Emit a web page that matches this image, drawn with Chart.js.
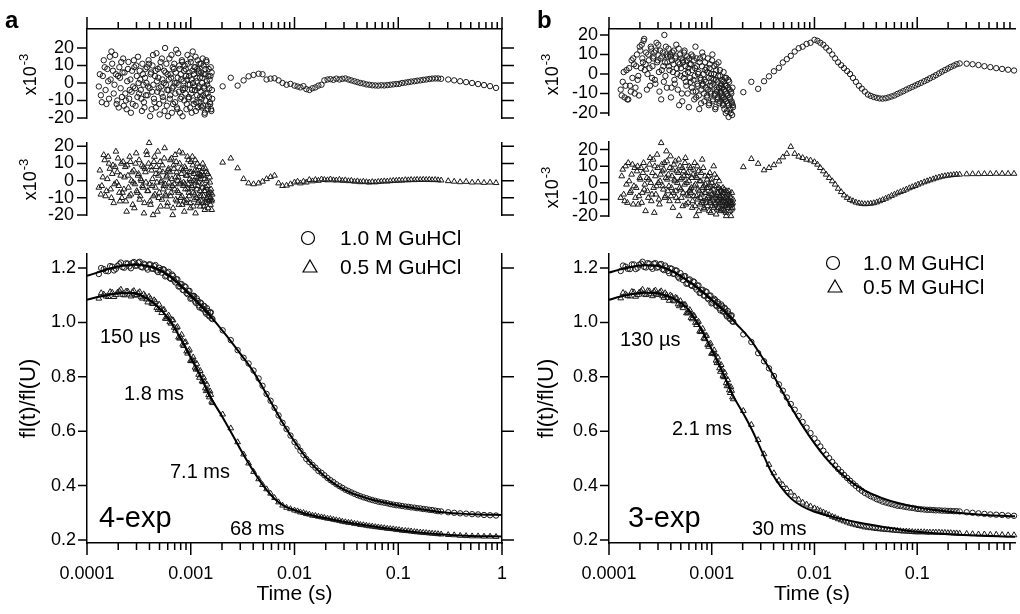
<!DOCTYPE html>
<html>
<head>
<meta charset="utf-8">
<title>Fluorescence decay fits</title>
<script src="https://cdn.jsdelivr.net/npm/chart.js@4.4.1/dist/chart.umd.min.js"></script>
<style>
html, body { margin: 0; padding: 0; background: #fff; }
#wrap { position: relative; width: 1020px; height: 614px; overflow: hidden; }
#wrap canvas { position: absolute; left: 0; top: 0; }
</style>
</head>
<body>
<div id="wrap"></div>
<script>
const FAM = '"Liberation Sans", Arial, Helvetica, sans-serif';
const W = 1020, H = 614;

// tick labels
const decadeLabels = ['0.0001', '0.001', '0.01', '0.1', '1'];
const fracTicks = [0.2, 0.4, 0.6, 0.8, 1.0, 1.2];
const resTicks = [-20, -10, 0, 10, 20];

// sampling times of the early, dense part (microseconds), two interleaved sets
const denseUs = [130,136,142,148,154,160,166,172,178,184,190,196,202,208,214,220,
  227,234,241,248,255,262,269,276,283,290,298,306,314,322,330,338,346,354,362,370,
  379,388,397,406,415,424,433,442,452,462,472,482,492,502,512,522,533,544,555,566,577,588,599,610,
  622,634,646,658,670,682,694,706,718,730,743,756,769,782,795,808,821,834,847,860,
  874,888,902,916,930,944,958,972,986,1000,1015,1030,1045,1060,1075,1090,1105,1120,1135,1150,1165,1180,1195,1210,1225,1240,
  1256,1272,1288,1304,1320,1336,1352,1368,1384,1400,1420,1440,1460,1480,1500,1520,1540,1560,1580,1600];
const denseUs2 = [133,139,145,151,157,163,169,175,181,187,193,199,205,211,217,223,
  230,237,244,251,258,265,272,279,286,294,302,310,318,326,334,342,350,358,366,374,
  383,392,401,410,419,428,437,447,457,467,477,487,497,507,517,527,538,549,560,571,582,593,604,616,
  628,640,652,664,676,688,700,712,724,736,749,762,775,788,801,814,827,840,853,867,
  881,895,909,923,937,951,965,979,993,1007,1022,1037,1052,1067,1082,1097,1112,1127,1142,1157,1172,1187,1202,1217,1232,1248,
  1264,1280,1296,1312,1328,1344,1360,1376,1392,1410,1430,1450,1470,1490,1510,1530,1550,1570,1590,1610];
// decay curve points in the early part (microseconds), two interleaved sets
const mainUs = [130,145,160,175,190,205,220,238,256,274,292,312,332,352,374,396,420,444,470,496,
  524,552,582,612,644,676,710,744,780,816,854,892,932,972,1014,1056,1100,1144,1190,1236,
  1284,1332,1382,1432,1484,1536,1590];
const mainUs2 = [137,152,167,182,197,212,229,247,265,283,302,322,342,363,385,408,432,457,483,510,
  538,567,597,628,660,693,727,762,798,835,873,912,952,993,1035,1078,1122,1167,1213,1260,
  1308,1357,1407,1458,1510,1563,1620];
// later points (seconds)
const trailT = [0.00203,0.00243,0.00283,0.00323,0.00361,0.00403,0.00451,0.00492,0.00538,0.00588,0.00642,0.00702,0.00767,0.00838,0.00915,0.0100,
  0.0107,0.0114,0.0122,0.0130,0.0139,0.0149,0.0159,0.0170,0.0182,0.0194,
  0.0208,0.0222,0.0237,0.0253,0.0271,0.0289,0.0309,0.0331,0.0353,0.0378,
  0.0404,0.0431,0.0461,0.0493,0.0526,0.0562,0.0601,0.0642,0.0686,0.0733,
  0.0784,0.0838,0.0895,0.0957,0.102,0.109,0.117,0.125,0.133,0.143,
  0.152,0.163,0.174,0.186,0.199,0.212,0.227,0.242,0.259,
  0.303,0.346,0.395,0.451,0.515,0.588,0.671,0.767,0.876];

// residuals (x10^-3), panel a
const resA1Dense = [-2,-7,4,9,-12,1,15,18,7,-1,5,-10,-14,3,12,6,
  -13,-6,-15,8,-9,2,-5,-12,13,-3,10,-8,0,7,-4,-16,5,-11,3,-7,
  9,-2,11,-19,6,-5,16,-9,4,-14,1,8,-3,-18,12,-6,2,-10,7,20,-1,-13,5,-4,
  14,-7,3,-17,9,-2,11,-11,6,0,-15,17,-5,8,-9,2,13,-19,-3,7,
  10,-6,4,-12,16,-1,-8,6,-14,12,2,-4,18,-10,5,-2,9,-16,1,-7,13,-3,7,-11,3,-5,
  11,-9,0,14,-13,5,-3,-17,8,-6,12,-1,-15,4,-8,2,-12,9,-16,-4];
const resA1Dense2 = [5,-11,13,-4,8,-9,2,11,-6,16,-12,4,9,-3,-8,14,
  6,-10,1,12,-4,-17,7,-2,9,-13,4,15,-6,2,-9,11,-1,-14,8,0,
  -7,13,-3,5,-15,10,-1,-11,7,17,-5,3,-12,9,-2,14,-8,0,-16,6,11,-4,-19,2,
  -9,5,16,-3,-12,8,0,-6,19,-14,3,-1,10,-17,5,-8,12,-4,1,-10,
  -3,8,-15,2,11,-9,4,-1,14,-6,-17,7,0,-12,9,-4,15,-11,3,8,-14,6,-2,11,-8,-13,
  6,-14,3,-7,10,-2,-18,5,-10,13,1,-6,-13,8,-3,-11,4,-15,6,-9];
const resA1Trail = [-1.9,3,-1.5,1.5,3.8,4.6,5.3,5,2,2.5,2.7,1.5,0,-1,-0.5,-1.5,
  -2,-2.5,-1.8,-3.5,-4,-3,-2.5,-1.5,-1,1.5,
  2,2.2,1.8,2.5,2,2.4,2.6,2,1.5,1,
  0.5,0,-0.3,-0.8,-1,-1.3,-1.4,-1.5,-1.3,-1.4,
  -1.2,-1,-0.8,-0.6,-0.5,0,0.2,0.5,0.8,1,
  1.3,1.5,1.8,2,2.3,2.5,2.6,2.6,2.4,
  2,1.5,1,0.5,0,-0.6,-1.2,-1.8,-2.8];
const resA2Dense = [-4,-8,2,12,-6,14,7,-10,9,-2,17,5,-3,-12,10,-7,
  -5,8,-18,3,-9,11,0,-14,6,-2,16,-7,4,-11,1,9,-4,-19,7,-1,
  15,-6,22,-12,8,-3,-20,11,-8,4,-1,17,-10,6,-15,0,9,-5,13,-2,-9,3,-13,7,
  -4,12,-7,1,-20,9,-2,15,-11,5,-6,2,-14,10,-1,7,-9,16,-3,-12,
  8,-5,3,-11,14,-2,-7,5,-13,11,0,-4,9,-15,4,-8,12,-1,-10,6,-3,2,-12,8,-6,1,
  -9,5,-2,10,-13,3,-6,-17,7,-4,0,-11,4,-8,-12,2,-10,-7,-12,-11];
const resA2Dense2 = [6,-3,15,-9,1,10,-5,4,-13,8,-1,13,-7,3,-10,11,
  2,-12,9,-4,14,-8,5,-1,-16,10,-6,3,12,-9,0,-3,8,-13,5,17,
  -6,10,-2,-14,6,1,-9,14,-4,8,-18,3,-7,11,-1,-11,5,-3,19,-8,2,-15,6,-1,
  5,-9,13,-3,-16,7,-5,2,11,-12,0,-7,17,-2,-10,4,-14,6,-1,-18,
  -2,7,-13,3,-5,12,-9,1,-16,5,-3,14,-7,0,-11,6,-19,2,-5,10,-13,-1,4,-9,-15,3,
  3,-12,-4,7,-9,-15,1,-6,-13,5,-10,-3,-16,-7,-11,-1,-14,-5,-17,-8];
const resA2Trail = [10.6,13,7.3,1,-1.5,-2,-1.5,-0.5,1,2.2,3,-1.5,-3,-2.8,-2,-1,
  -0.5,-1.5,-0.5,-1,0.5,-0.3,0.5,0,0.8,0.5,
  0.3,0.8,0.3,0.2,0.6,0,0.3,-0.2,0,-0.5,
  -0.3,-0.8,-0.5,-0.8,-1,-0.7,-0.9,-0.6,-0.5,-0.3,
  -0.4,-0.2,0,0,0.2,0.1,0.4,0.3,0.5,0.4,
  0.6,0.5,0.6,0.5,0.6,0.4,0.5,0.3,0.2,
  -0.2,-0.5,-0.8,-0.6,-1,-0.9,-1.2,-1,-1.3];

// residuals (x10^-3), panel b
const resB1Dense = [-8,-4,-12,2,-13,-6,7,8,-10,4,-3,-11,12,15,6,18,
  5,-8,10,3,14,-2,8,11,-5,16,7,1,12,-13,9,4,20,-1,10,6,
  13,2,9,-7,11,5,-3,8,15,0,6,-16,10,3,-10,7,-2,12,4,-6,9,1,-17,5,
  -4,10,2,-9,7,-1,14,-12,4,-6,1,-18,8,-3,-8,11,-5,0,-14,6,
  -7,3,-11,8,-2,-15,5,-9,0,-6,10,-13,-3,4,-10,-17,2,-8,-4,-12,6,-7,-14,-1,-9,-5,
  -11,-3,-16,1,-8,-13,-6,-20,-2,-10,-15,-7,-22,-4,-12,-18,-9,-14,-21,-16];
const resB1Dense2 = [-11,1,-6,-13,3,-9,-2,5,-7,10,-1,14,3,8,17,2,
  11,0,7,-6,13,4,9,-3,12,6,15,-9,8,2,11,-4,6,14,-7,9,
  4,10,-12,7,1,12,-5,9,3,-8,13,5,-1,8,-14,6,11,0,-4,7,-10,3,8,-2,
  5,-7,9,-3,-13,3,-9,8,-5,0,-11,6,-2,-15,4,-6,9,-10,-3,2,
  -4,-12,1,-8,-16,3,-6,-10,-2,7,-14,-5,0,-11,-18,-3,5,-9,-13,-1,-7,-15,2,-10,-6,-12,
  -7,-15,-4,-12,-18,-2,-9,-14,-6,-19,-11,-3,-16,-8,-13,-20,-10,-15,-7,-17];
const resB1Trail = [-9.3,-4,-7.6,-3.7,-1.2,1.4,3.2,5.9,7.6,9.3,11.5,13.2,14,15.4,16,17.5,
  17,16,15,13.5,12,10,8,6,4.5,3,
  1.5,0,-2,-4,-6,-7.5,-9,-10.5,-11.2,-11.8,
  -12.2,-12.5,-12.6,-12.4,-12,-11.5,-11,-10.2,-9.5,-8.8,
  -8,-7.3,-6.6,-5.9,-5.2,-4.5,-3.7,-3,-2.2,-1.4,
  -0.6,0.3,1.2,2,2.8,3.6,4.3,5,5.4,
  5.3,5,4.6,4,3.5,3,2.6,2.2,1.8];
const resB2Dense = [-9,8,-11,-1,12,-6,5,-13,9,-3,10,-8,2,-12,6,-4,
  -17,3,-9,11,0,-7,14,-18,4,-2,9,-10,1,24,7,-4,12,-8,19,2,
  5,-11,16,-3,8,-6,2,13,-9,0,6,-20,10,-4,3,-14,7,-1,15,-7,4,-12,1,-5,
  9,-3,-15,5,-8,12,-1,-20,3,-10,7,-5,-13,1,-7,14,-11,-2,-16,4,
  -6,-12,2,-9,-3,-17,6,-11,-5,0,-14,-8,10,-2,-13,-7,-19,3,-10,-6,-15,1,-9,-12,-4,-16,
  -8,-14,-3,-11,-17,-6,-12,-9,-20,-5,-13,-15,-10,-7,-14,-11,-20,-16,-13,-12];
const resB2Dense2 = [4,-7,10,-12,1,-5,11,-2,-9,7,-13,3,9,-6,12,-1,
  8,-5,2,15,-11,6,-3,10,-7,17,0,-13,5,11,-2,8,-9,3,13,-5,
  -2,9,-8,4,-15,11,1,-5,7,-11,14,-3,2,-9,9,-6,4,12,-13,0,6,-8,10,-4,
  -6,3,-11,8,-2,-14,4,-8,10,-4,-17,1,-9,6,-12,-3,9,-15,-6,-1,
  -10,-3,-14,4,-8,-1,-12,-18,2,-7,-10,-4,-15,5,-9,-12,-2,-16,-6,-11,-3,-13,-8,-17,-5,-10,
  -12,-6,-16,-9,-4,-14,-11,-18,-7,-13,-10,-15,-5,-12,-17,-9,-13,-6,-15,-10];
const resB2Trail = [9.5,14.4,11.5,7.6,9,10.7,12.9,15.4,17.5,21.7,17.5,15.8,15,14,13.5,12.5,
  11,9,7,5,3,1,-1,-3.5,-5.5,-7.5,
  -9,-10.2,-11,-11.8,-12.3,-12.6,-12.8,-12.7,-12.5,-12.2,
  -11.7,-11,-10.3,-9.5,-8.7,-7.8,-7,-6.2,-5.5,-4.8,
  -4,-3.2,-2.5,-1.8,-1,-0.3,0.4,1,1.6,2.2,
  2.8,3.3,3.8,4.1,4.4,4.6,4.8,5,5,
  5.2,5.3,5.3,5.4,5.4,5.5,5.5,5.5,5.5];

// fl(t)/fl(U), panel a: 1.0 M (circles) and 0.5 M (triangles)
const decA1Dense = [1.178,1.196,1.188,1.205,1.197,1.214,1.203,1.217,1.206,1.219,1.208,1.220,1.204,1.216,1.201,1.213,1.198,1.207,1.191,1.201,
  1.183,1.194,1.172,1.186,1.160,1.171,1.147,1.158,1.133,1.141,1.118,1.130,1.104,1.116,1.090,1.098,1.077,1.088,1.063,1.073,
  1.051,1.061,1.039,1.052,1.027,1.036,1.015];
const decA1Dense2 = [1.200,1.189,1.207,1.191,1.208,1.220,1.201,1.216,1.199,1.222,1.209,1.223,1.202,1.213,1.194,1.213,1.197,1.211,1.185,1.193,
  1.196,1.169,1.181,1.163,1.176,1.154,1.159,1.132,1.140,1.120,1.133,1.108,1.115,1.087,1.096,1.097,1.072,1.079,1.055,1.070,
  1.051,1.059,1.032,1.042,1.022,1.037,1.012];
const decA1Trail = [0.971,0.935,0.898,0.870,0.849,0.823,0.794,0.767,0.737,0.712,0.686,0.658,0.631,0.608,0.584,0.560,
  0.544,0.528,0.513,0.498,0.487,0.476,0.466,0.454,0.447,0.438,
  0.428,0.420,0.413,0.405,0.398,0.392,0.385,0.380,0.375,0.370,
  0.365,0.361,0.357,0.354,0.350,0.347,0.344,0.341,0.339,0.337,
  0.335,0.332,0.330,0.328,0.327,0.325,0.323,0.322,0.320,0.319,
  0.317,0.316,0.314,0.313,0.311,0.310,0.308,0.306,0.305,
  0.302,0.300,0.298,0.297,0.295,0.294,0.292,0.291,0.290];
const decA2Dense = [1.088,1.103,1.094,1.110,1.101,1.115,1.102,1.114,1.103,1.112,1.099,1.108,1.093,1.104,1.085,1.095,1.070,1.082,1.054,1.066,
  1.035,1.047,1.014,1.026,0.996,1.008,0.970,0.984,0.941,0.955,0.914,0.928,0.886,0.900,0.858,0.872,0.834,0.848,0.808,0.822,
  0.784,0.797,0.758,0.772,0.733,0.747,0.709];
const decA2Dense2 = [1.108,1.096,1.112,1.094,1.110,1.121,1.100,1.114,1.096,1.116,1.101,1.112,1.088,1.097,1.074,1.088,1.068,1.076,1.046,1.048,
  1.046,1.014,1.020,1.001,1.009,0.981,0.979,0.945,0.945,0.919,0.926,0.894,0.894,0.859,0.862,0.858,0.827,0.828,0.797,0.806,
  0.781,0.782,0.748,0.751,0.725,0.734,0.704];
const decA2Trail = [0.662,0.611,0.560,0.515,0.482,0.451,0.424,0.403,0.387,0.371,0.355,0.339,0.327,0.319,0.314,0.309,
  0.306,0.302,0.300,0.296,0.294,0.290,0.289,0.286,0.284,0.282,
  0.279,0.278,0.275,0.273,0.271,0.268,0.266,0.264,0.263,0.260,
  0.259,0.256,0.255,0.253,0.251,0.250,0.248,0.247,0.245,0.244,
  0.242,0.241,0.240,0.238,0.237,0.235,0.234,0.233,0.232,0.230,
  0.229,0.228,0.227,0.226,0.225,0.224,0.223,0.222,0.221,
  0.219,0.218,0.216,0.215,0.214,0.214,0.213,0.213,0.212];

// fl(t)/fl(U), panel b
const decB1Dense = [1.189,1.205,1.196,1.213,1.201,1.216,1.204,1.218,1.203,1.216,1.201,1.213,1.196,1.209,1.189,1.199,1.179,1.192,1.168,1.181,
  1.156,1.170,1.144,1.158,1.134,1.148,1.121,1.136,1.109,1.120,1.098,1.112,1.085,1.099,1.073,1.087,1.063,1.075,1.052,1.066,
  1.040,1.054,1.029,1.042,1.017,1.024,1.004];
const decB1Dense2 = [1.209,1.197,1.213,1.196,1.212,1.223,1.202,1.216,1.197,1.218,1.204,1.215,1.192,1.202,1.181,1.197,1.178,1.190,1.162,1.168,
  1.170,1.142,1.155,1.137,1.151,1.129,1.135,1.108,1.118,1.099,1.114,1.089,1.097,1.070,1.080,1.083,1.059,1.067,1.044,1.059,
  1.040,1.049,1.022,1.032,1.012,1.026,1.002];
const decB1Trail = [0.956,0.928,0.887,0.857,0.831,0.803,0.772,0.749,0.724,0.700,0.679,0.656,0.634,0.613,0.593,0.573,
  0.558,0.544,0.528,0.514,0.501,0.487,0.474,0.461,0.450,0.439,
  0.428,0.418,0.408,0.399,0.389,0.381,0.373,0.367,0.361,0.356,
  0.350,0.346,0.341,0.338,0.335,0.332,0.329,0.326,0.325,0.323,
  0.321,0.319,0.318,0.316,0.314,0.313,0.312,0.311,0.311,0.310,
  0.309,0.309,0.308,0.308,0.307,0.307,0.306,0.306,0.305,
  0.302,0.300,0.298,0.296,0.294,0.293,0.292,0.290,0.289];
const decB2Dense = [1.089,1.104,1.096,1.111,1.101,1.114,1.103,1.116,1.104,1.114,1.102,1.111,1.097,1.108,1.090,1.100,1.081,1.091,1.067,1.079,
  1.053,1.065,1.034,1.046,1.012,1.024,0.991,1.003,0.965,0.977,0.939,0.951,0.911,0.923,0.886,0.898,0.860,0.872,0.832,0.844,
  0.804,0.816,0.777,0.789,0.751,0.763,0.725];
const decB2Dense2 = [1.109,1.097,1.113,1.095,1.110,1.121,1.101,1.115,1.097,1.118,1.103,1.115,1.091,1.101,1.080,1.096,1.078,1.089,1.060,1.065,
  1.065,1.034,1.040,1.017,1.026,0.999,1.000,0.967,0.968,0.942,0.950,0.918,0.919,0.885,0.888,0.883,0.851,0.851,0.819,0.826,
  0.799,0.800,0.766,0.768,0.741,0.749,0.718];
const decB2Trail = [0.675,0.624,0.568,0.516,0.477,0.446,0.419,0.403,0.388,0.375,0.361,0.349,0.338,0.331,0.324,0.317,
  0.312,0.307,0.302,0.297,0.292,0.286,0.282,0.277,0.273,0.269,
  0.265,0.261,0.258,0.255,0.252,0.250,0.247,0.246,0.244,0.243,
  0.241,0.240,0.239,0.238,0.237,0.236,0.235,0.234,0.233,0.232,
  0.232,0.231,0.230,0.229,0.229,0.229,0.229,0.228,0.228,0.228,
  0.228,0.228,0.227,0.227,0.226,0.226,0.225,0.225,0.224,
  0.223,0.222,0.221,0.221,0.220,0.220,0.219,0.218,0.218];

// fitted curves (time in s)
const fitA1T = [0.0001,0.00013,0.00017,0.00022,0.00028,0.00035,0.00045,0.0006,0.0008,0.001,0.0013,0.0017,0.0022,0.003,0.004,0.005,0.0065,0.008,0.01,0.013,0.017,0.022,0.03,0.04,0.06,0.1,0.15,0.25,0.4,0.6,1];
const fitA1Y = [1.171,1.185,1.199,1.208,1.212,1.210,1.200,1.175,1.135,1.098,1.055,1.005,0.952,0.885,0.820,0.757,0.680,0.620,0.562,0.502,0.455,0.418,0.385,0.365,0.345,0.327,0.316,0.303,0.297,0.294,0.292];
const fitA2T = [0.0001,0.00013,0.00017,0.00022,0.00028,0.00035,0.00045,0.0006,0.0008,0.001,0.00125,0.0015,0.002,0.0025,0.003,0.004,0.005,0.0065,0.008,0.01,0.015,0.022,0.03,0.05,0.1,0.15,0.25,0.5,1];
const fitA2Y = [1.083,1.094,1.103,1.108,1.107,1.095,1.068,1.018,0.940,0.870,0.800,0.735,0.655,0.590,0.535,0.455,0.400,0.350,0.325,0.310,0.290,0.277,0.267,0.253,0.237,0.229,0.221,0.215,0.213];
const fitB1T = [0.0001,0.00013,0.00017,0.00022,0.00028,0.00035,0.00045,0.0006,0.0008,0.001,0.0013,0.0017,0.0024,0.003,0.0038,0.0048,0.0059,0.0075,0.01,0.013,0.017,0.022,0.03,0.045,0.065,0.1,0.15,0.28,0.5,0.9];
const fitB1Y = [1.183,1.195,1.205,1.210,1.209,1.200,1.180,1.150,1.115,1.082,1.045,0.998,0.935,0.880,0.819,0.750,0.690,0.625,0.555,0.500,0.455,0.418,0.384,0.355,0.336,0.320,0.310,0.298,0.291,0.287];
const fitB2T = [0.0001,0.00013,0.00017,0.00022,0.00028,0.00035,0.00045,0.00056,0.00075,0.001,0.0013,0.00162,0.0021,0.00245,0.003,0.0038,0.0047,0.0059,0.0075,0.01,0.015,0.03,0.06,0.1,0.28,0.9];
const fitB2Y = [1.083,1.095,1.104,1.109,1.108,1.100,1.083,1.057,0.990,0.900,0.810,0.730,0.655,0.607,0.535,0.450,0.396,0.353,0.325,0.304,0.285,0.261,0.242,0.230,0.218,0.212];

Chart.defaults.font.family = FAM;
Chart.defaults.color = '#000';

function pts(ts, ys, k) { return ts.map((t, i) => ({ x: t * k, y: ys[i] })); }
function series(d1T, d1Y, d2T, d2Y, tT, tY) {
  return pts(d1T, d1Y, 1e-6).concat(pts(d2T, d2Y, 1e-6), pts(tT, tY, 1));
}

const circ = { pointStyle: 'circle', pointRadius: 2.7, borderWidth: 1, pointBorderWidth: 1,
  borderColor: '#1a1a1a', pointBorderColor: '#1a1a1a', backgroundColor: 'rgba(0,0,0,0)', pointBackgroundColor: 'rgba(0,0,0,0)', showLine: false, clip: false };
const tri = Object.assign({}, circ, { pointStyle: 'triangle', pointRadius: 3.3 });
function fitLine(t, y) {
  return { data: pts(t, y, 1), showLine: true, pointRadius: 0, borderColor: '#000', borderWidth: 2,
    cubicInterpolationMode: 'monotone', fill: false };
}

function xTickList(max) {
  const out = [];
  decadeLabels.forEach(lbl => {
    const d = parseFloat(lbl);
    for (let k = 1; k <= 9; k++) {
      if (d * k <= max * 1.0001) out.push({ value: d * k, major: k === 1, txt: k === 1 ? lbl : '' });
    }
  });
  return out;
}

// tick marks drawn outward from each axis line
const tickMarks = {
  id: 'tickMarks',
  afterDraw(chart, args, opts) {
    const ctx = chart.ctx, a = chart.chartArea;
    ctx.save();
    ctx.strokeStyle = '#000';
    ctx.lineWidth = 1.5;
    ctx.beginPath();
    Object.values(chart.scales).forEach(s => {
      const len = opts[s.id];
      if (!len || !s.options.display) return;
      s.ticks.forEach(t => {
        const p = s.getPixelForValue(t.value);
        const l = t.major ? len[0] : len[1];
        if (s.position === 'bottom') { ctx.moveTo(p, a.bottom); ctx.lineTo(p, a.bottom + l); }
        else if (s.position === 'top') { ctx.moveTo(p, a.top); ctx.lineTo(p, a.top - l); }
        else if (s.position === 'left') { ctx.moveTo(a.left, p); ctx.lineTo(a.left - l, p); }
        else { ctx.moveTo(a.right, p); ctx.lineTo(a.right + l, p); }
      });
    });
    ctx.stroke();
    ctx.restore();
  }
};

function drawSci(ctx, x, y) {
  ctx.save();
  ctx.translate(x, y);
  ctx.rotate(-Math.PI / 2);
  ctx.fillStyle = '#000';
  ctx.textBaseline = 'alphabetic';
  ctx.font = '18px ' + FAM;
  const w1 = ctx.measureText('x10').width;
  ctx.font = '13px ' + FAM;
  const w2 = ctx.measureText('-3').width;
  const s = -(w1 + w2) / 2;
  ctx.font = '18px ' + FAM;
  ctx.fillText('x10', s, 0);
  ctx.font = '13px ' + FAM;
  ctx.fillText('-3', s + w1 + 1, -8);
  ctx.restore();
}

function drawSym(ctx, it) {
  ctx.save();
  ctx.strokeStyle = '#000';
  ctx.lineWidth = 1.2;
  ctx.beginPath();
  if (it.sym === 'circle') {
    ctx.arc(it.x, it.y, it.r, 0, Math.PI * 2);
  } else {
    const r = it.r;
    ctx.moveTo(it.x, it.y - r);
    ctx.lineTo(it.x + r * 0.866, it.y + r * 0.5);
    ctx.lineTo(it.x - r * 0.866, it.y + r * 0.5);
    ctx.closePath();
  }
  ctx.stroke();
  ctx.restore();
}

function notesPlugin(items) {
  return {
    id: 'notes',
    afterDraw(chart) {
      const ctx = chart.ctx;
      ctx.save();
      items.forEach(it => {
        if (it.sym) { drawSym(ctx, it); return; }
        if (it.sci) { drawSci(ctx, it.x, it.y); return; }
        ctx.font = (it.bold ? 'bold ' : '') + it.size + 'px ' + FAM;
        ctx.fillStyle = '#000';
        ctx.textAlign = 'left';
        ctx.textBaseline = it.mid ? 'middle' : 'alphabetic';
        ctx.fillText(it.text, it.x, it.y);
      });
      ctx.restore();
    }
  };
}

function makePlot(cfg) {
  const cv = document.createElement('canvas');
  cv.width = W; cv.height = H;
  document.getElementById('wrap').appendChild(cv);
  const b = cfg.box;
  const xSize = cfg.xPos === 'bottom' ? H - b.b : 14;
  const ySize = cfg.ySize;
  const y2Size = cfg.y2 ? 16 : 0;
  const noPad = s => { s.paddingLeft = 0; s.paddingRight = 0; s.paddingTop = 0; s.paddingBottom = 0; };
  const yList = s => { s.ticks = cfg.yTicks.map(v => ({ value: v, major: true })); };
  return new Chart(cv, {
    type: 'scatter',
    data: { datasets: cfg.datasets },
    options: {
      responsive: false, maintainAspectRatio: false, animation: false, events: [], devicePixelRatio: 1,
      layout: { padding: {
        left: b.l - ySize,
        right: W - b.r - y2Size,
        top: b.t - (cfg.xPos === 'top' ? xSize : 0),
        bottom: cfg.xPos === 'bottom' ? 0 : H - b.b
      } },
      plugins: { legend: { display: false }, tooltip: { enabled: false }, tickMarks: cfg.marks },
      scales: {
        x: {
          type: 'logarithmic', min: 1e-4, max: cfg.xmax,
          position: cfg.xPos || 'bottom', display: !!cfg.xPos,
          grid: { display: false, drawTicks: false },
          border: { display: true, color: '#000', width: 1.5 },
          ticks: { display: !!cfg.xTitle, autoSkip: false, maxRotation: 0, minRotation: 0, padding: 20,
            font: { size: 18 }, color: '#000', callback: (v, i, t) => t[i].txt || '' },
          title: { display: !!cfg.xTitle, text: cfg.xTitle || '', font: { size: 21 }, color: '#000',
            padding: { top: 0, bottom: 7 } },
          afterBuildTicks: s => { s.ticks = xTickList(cfg.xmax); },
          afterFit: s => { s.height = xSize; noPad(s); }
        },
        y: {
          type: 'linear', min: cfg.ymin, max: cfg.ymax, position: 'left',
          grid: { display: false, drawTicks: false },
          border: { display: true, color: '#000', width: 1.5 },
          ticks: { autoSkip: false, padding: cfg.yPad, font: { size: 18 }, color: '#000', callback: v => cfg.yFmt(v) },
          title: { display: !!cfg.yTitle, text: cfg.yTitle || '', font: { size: 22 }, color: '#000', padding: 0 },
          afterBuildTicks: yList,
          afterFit: s => { s.width = ySize; noPad(s); }
        },
        y2: {
          type: 'linear', min: cfg.ymin, max: cfg.ymax, position: 'right', display: !!cfg.y2,
          grid: { display: false, drawTicks: false },
          border: { display: true, color: '#000', width: 1.5 },
          ticks: { display: false },
          afterBuildTicks: yList,
          afterFit: s => { s.width = y2Size; noPad(s); }
        }
      }
    },
    plugins: [tickMarks, notesPlugin(cfg.notes || [])]
  });
}

const resFmt = v => String(v);
const fracFmt = v => v.toFixed(1);
const XMAX_A = 1, XMAX_B = 0.8954;

// panel a
makePlot({
  box: { l: 87, t: 29, r: 502, b: 118 }, xmax: XMAX_A, xPos: 'top',
  ymin: -20, ymax: 30.86, yTicks: resTicks, yFmt: resFmt, yPad: 13, ySize: 60, y2: true,
  marks: { x: [12, 7], y: [10, 10], y2: [12, 12] },
  datasets: [Object.assign({ data: series(denseUs, resA1Dense, denseUs2, resA1Dense2, trailT, resA1Trail) }, circ)],
  notes: [{ sci: true, x: 36, y: 75 }, { text: 'a', x: 5, y: 28, size: 24, bold: true }]
});
makePlot({
  box: { l: 87, t: 143, r: 502, b: 229 }, xmax: XMAX_A, xPos: null,
  ymin: -20, ymax: 21.95, yTicks: resTicks, yFmt: resFmt, yPad: 13, ySize: 60, y2: true,
  marks: { y: [10, 10], y2: [12, 12] },
  datasets: [Object.assign({ data: series(denseUs, resA2Dense, denseUs2, resA2Dense2, trailT, resA2Trail) }, tri)],
  notes: [{ sci: true, x: 36, y: 180 }]
});
makePlot({
  box: { l: 87, t: 254, r: 502, b: 543 }, xmax: XMAX_A, xPos: 'bottom', xTitle: 'Time (s)',
  ymin: 0.189, ymax: 1.2515, yTicks: fracTicks, yFmt: fracFmt, yPad: 11, ySize: 71, y2: true,
  yTitle: 'fl(t)/fl(U)',
  marks: { x: [12, 7], y: [9, 9], y2: [12, 12] },
  datasets: [
    fitLine(fitA1T, fitA1Y),
    fitLine(fitA2T, fitA2Y),
    Object.assign({ data: series(mainUs, decA1Dense, mainUs2, decA1Dense2, trailT, decA1Trail) }, circ),
    Object.assign({ data: series(mainUs, decA2Dense, mainUs2, decA2Dense2, trailT, decA2Trail) }, tri)
  ],
  notes: [
    { text: '150 µs', x: 100, y: 343, size: 20 },
    { text: '1.8 ms', x: 124, y: 400, size: 20 },
    { text: '7.1 ms', x: 170, y: 478, size: 20 },
    { text: '4-exp', x: 99, y: 527, size: 29 },
    { text: '68 ms', x: 230, y: 535, size: 20 },
    { sym: 'circle', x: 308, y: 238, r: 6.5 },
    { text: '1.0 M GuHCl', x: 340, y: 239, size: 21, mid: true },
    { sym: 'triangle', x: 310, y: 268, r: 8 },
    { text: '0.5 M GuHCl', x: 340, y: 268, size: 21, mid: true }
  ]
});

// panel b
makePlot({
  box: { l: 609, t: 29, r: 1020, b: 115 }, xmax: XMAX_B, xPos: 'top',
  ymin: -21, ymax: 23.06, yTicks: resTicks, yFmt: resFmt, yPad: 11, ySize: 60, y2: false,
  marks: { x: [12, 7], y: [9, 9] },
  datasets: [Object.assign({ data: series(denseUs, resB1Dense, denseUs2, resB1Dense2, trailT, resB1Trail) }, circ)],
  notes: [{ sci: true, x: 558, y: 75 }, { text: 'b', x: 537, y: 28, size: 24, bold: true }]
});
makePlot({
  box: { l: 609, t: 142, r: 1020, b: 230 }, xmax: XMAX_B, xPos: null,
  ymin: -20, ymax: 24.56, yTicks: resTicks, yFmt: resFmt, yPad: 11, ySize: 60, y2: false,
  marks: { y: [9, 9] },
  datasets: [Object.assign({ data: series(denseUs, resB2Dense, denseUs2, resB2Dense2, trailT, resB2Trail) }, tri)],
  notes: [{ sci: true, x: 558, y: 188 }]
});
makePlot({
  box: { l: 609, t: 254, r: 1020, b: 543 }, xmax: XMAX_B, xPos: 'bottom', xTitle: 'Time (s)',
  ymin: 0.189, ymax: 1.2515, yTicks: fracTicks, yFmt: fracFmt, yPad: 11, ySize: 75, y2: false,
  yTitle: 'fl(t)/fl(U)',
  marks: { x: [12, 7], y: [9, 9] },
  datasets: [
    fitLine(fitB1T, fitB1Y),
    fitLine(fitB2T, fitB2Y),
    Object.assign({ data: series(mainUs, decB1Dense, mainUs2, decB1Dense2, trailT, decB1Trail) }, circ),
    Object.assign({ data: series(mainUs, decB2Dense, mainUs2, decB2Dense2, trailT, decB2Trail) }, tri)
  ],
  notes: [
    { text: '130 µs', x: 620, y: 346, size: 20 },
    { text: '2.1 ms', x: 672, y: 435, size: 20 },
    { text: '3-exp', x: 628, y: 527, size: 29 },
    { text: '30 ms', x: 752, y: 535, size: 20 },
    { sym: 'circle', x: 833, y: 263, r: 6.5 },
    { text: '1.0 M GuHCl', x: 863, y: 264, size: 21, mid: true },
    { sym: 'triangle', x: 835, y: 288, r: 8 },
    { text: '0.5 M GuHCl', x: 863, y: 288, size: 21, mid: true }
  ]
});
</script>
</body>
</html>
